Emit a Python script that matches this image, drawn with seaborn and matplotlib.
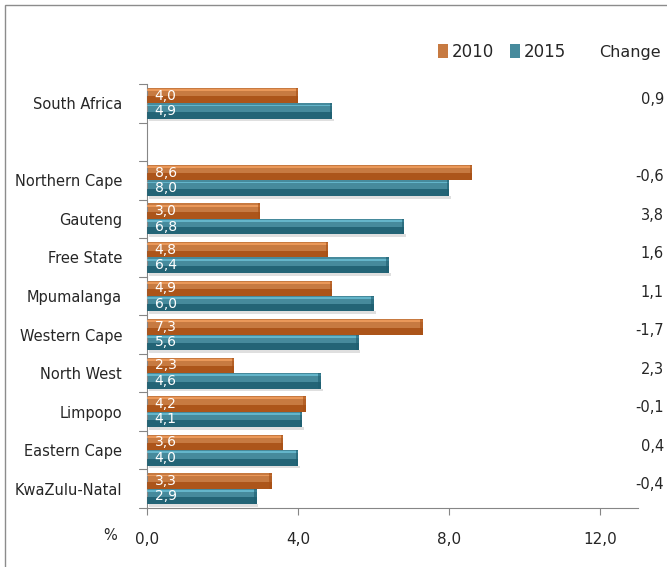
import numpy as np
import pandas as pd
import matplotlib
matplotlib.use("Agg")
import matplotlib.pyplot as plt
import matplotlib.patches as mpatches
import matplotlib.transforms as mtransforms
import seaborn as sns

# Regions (blank entry separates the national figure from the provinces)
regions = ["South Africa", " ", "Northern Cape", "Gauteng", "Free State", "Mpumalanga",
           "Western Cape", "North West", "Limpopo", "Eastern Cape", "KwaZulu-Natal"]
values_2010 = [4.0, np.nan, 8.6, 3.0, 4.8, 4.9, 7.3, 2.3, 4.2, 3.6, 3.3]
values_2015 = [4.9, np.nan, 8.0, 6.8, 6.4, 6.0, 5.6, 4.6, 4.1, 4.0, 2.9]
change = ["0,9", "", "-0,6", "3,8", "1,6", "1,1", "-1,7", "2,3", "-0,1", "0,4", "-0,4"]
years = ["2010", "2015"]
x_ticks = [0, 4, 8, 12]
x_ticklabels = ["0,0", "4,0", "8,0", "12,0"]

sns.set_theme(style="white")
plt.rcParams["font.family"] = ["Liberation Sans Narrow", "DejaVu Sans"]

df = pd.DataFrame({
    "region": regions * 2,
    "year": [years[0]] * len(regions) + [years[1]] * len(regions),
    "value": values_2010 + values_2015,
})

colors = {"2010": "#DE772A", "2015": "#3892AA"}
dark = {"2010": "#A84F14", "2015": "#1D5E70"}
light = {"2010": "#F4A060", "2015": "#6CC0D6"}

fig = plt.figure(figsize=(6.67, 5.67), dpi=100)
ax = fig.add_axes([147 / 667, 59 / 567, 491 / 667, 424 / 567])

sns.barplot(data=df, y="region", x="value", hue="year", order=regions,
            hue_order=years, palette=colors, orient="h", width=0.8,
            ax=ax, legend=True, errorbar=None, linewidth=0)

# bevel look: light top edge, darker lower half, soft shadow under each pair
for cont, yr in zip(ax.containers, years):
    for p in cont.patches:
        if not np.isfinite(p.get_width()) or p.get_width() == 0:
            continue
        x0, y0 = p.get_x(), p.get_y()
        w, h = p.get_width(), p.get_height()
        # y axis is inverted: y0 is the visual top of the bar
        ax.add_patch(mpatches.Rectangle((x0, y0 + h * 0.55), w, h * 0.45,
                                        facecolor=dark[yr], lw=0, alpha=0.85, zorder=3))
        ax.add_patch(mpatches.Rectangle((x0, y0 + h * 0.08), w, h * 0.12,
                                        facecolor=light[yr], lw=0, alpha=0.8, zorder=3))
        ax.add_patch(mpatches.Rectangle((x0 + w - 0.06, y0), 0.06, h,
                                        facecolor=dark[yr], lw=0, alpha=0.6, zorder=3))
        if yr == years[1]:
            ax.add_patch(mpatches.Rectangle((x0 + 0.05, y0 + h), w, h * 0.18,
                                            facecolor="#B8B8B8", lw=0, alpha=0.45,
                                            zorder=1))

# value labels inside the bars, at the left end
for cont, vals in zip(ax.containers, [values_2010, values_2015]):
    vals_clean = [v for v in vals if np.isfinite(v)]
    patches = [p for p in cont.patches if np.isfinite(p.get_width()) and p.get_width() > 0]
    for p, v in zip(patches, vals_clean):
        ax.text(0.2, p.get_y() + p.get_height() / 2, f"{v:.1f}".replace(".", ","),
                color="white", ha="left", va="center", fontsize=10, zorder=4)

ax.set_xlim(0, 13)
ax.set_ylim(len(regions) - 0.5, -0.5)
ax.set_xticks(x_ticks)
ax.set_xticklabels(x_ticklabels, fontsize=11, color="#262626")
ax.set_xlabel("")
ax.set_ylabel("")
ax.tick_params(axis="x", length=5, width=0.8, color="#868686", direction="out",
               bottom=True, pad=12)
ax.tick_params(axis="y", left=False, labelsize=10.5, labelcolor="#262626", pad=12)

# boundary ticks between categories
for yb in np.arange(-0.5, len(regions), 1.0):
    ax.plot([-0.2, 0], [yb, yb], color="#868686", lw=0.8, clip_on=False)

for s in ["top", "right"]:
    ax.spines[s].set_visible(False)
for s in ["left", "bottom"]:
    ax.spines[s].set_color("#868686")
    ax.spines[s].set_linewidth(0.8)

# change column, right edge of the figure
change_tr = mtransforms.blended_transform_factory(fig.transFigure, ax.transData)
for i, c in enumerate(change):
    if c:
        ax.text(664 / 667, i - 0.1, c, transform=change_tr, ha="right",
                va="center", fontsize=10.5, color="#262626", clip_on=False)

# legend
handles, labels = ax.get_legend_handles_labels()
ax.legend(handles, labels, ncol=2, frameon=False, loc="center",
          bbox_to_anchor=(502 / 667, 1 - 52 / 567), bbox_transform=fig.transFigure,
          handlelength=0.6, handleheight=0.9, handletextpad=0.2, columnspacing=1.0,
          fontsize=12)
fig.text(630 / 667, 1 - 52 / 567, "Change", ha="center", va="center", fontsize=11.5,
         color="#262626")
fig.text(110 / 667, 1 - 535 / 567, "%", ha="center", va="center", fontsize=10.5,
         color="#262626")

# outer frame
fig.patches.append(mpatches.Rectangle((5 / 667, -0.1), 1.2, 1.1 - 5 / 567,
                                      transform=fig.transFigure, fill=False,
                                      edgecolor="#8C8C8C", lw=1.0))

fig.savefig("out.png", dpi=100)
